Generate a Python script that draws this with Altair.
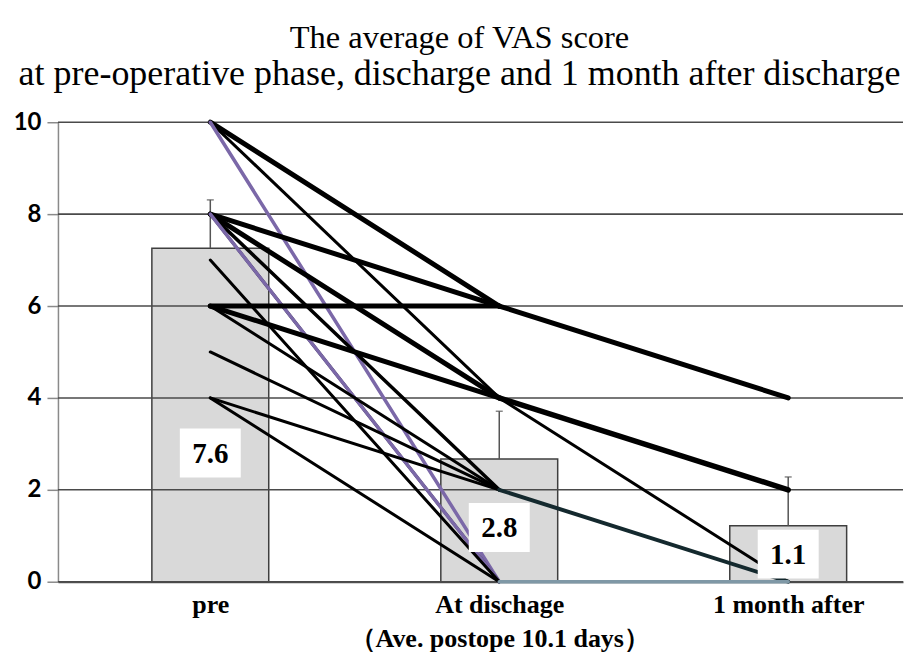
import json
import altair as alt
import pandas as pd

# ---------------- data ----------------
phase_index = [0, 1, 2]
phase_labels = [["pre"], ["At dischage", "（Ave. postope 10.1 days）"], ["1 month after"]]

bar_mean = [7.26, 2.67, 1.22]
bar_err_top = [8.31, 3.71, 2.28]

box_text = ["7.6", "2.8", "1.1"]
box_y = [2.8, 1.18, 0.6]

y_ticks = [0, 2, 4, 6, 8, 10]

# individual patient segments (start phase, start VAS, end VAS, line width, colour)
seg_start_phase = [0, 0, 0, 0, 0, 0, 0, 0, 0, 0, 0, 0, 0, 0, 0,
                   1, 1, 1, 1, 1]
seg_start_val = [10, 10, 10, 8, 8, 8, 8, 8, 7, 6, 6, 6, 5, 4, 4,
                 6, 4, 4, 2, 0]
seg_end_val = [6, 4, 0, 6, 4, 2, 0, 0, 0, 6, 4, 2, 2, 2, 0,
               4, 2, 0, 0, 0]
seg_width = [5, 3, 3.5, 5, 5, 3.5, 3, 3.5, 3, 5, 5, 3, 3, 3, 3,
             5, 5.5, 3, 4, 3.5]
seg_color = ["#000000", "#000000", "#7b68a8", "#000000", "#000000", "#000000",
             "#000000", "#7b68a8", "#000000", "#000000", "#000000", "#000000",
             "#000000", "#000000", "#000000",
             "#000000", "#000000", "#000000", "#14292e", "#7f98a6"]

title_line1 = "The average of VAS score"
title_line2 = "at pre-operative phase, discharge and 1 month after discharge"

# ---------------- tables ----------------
bars = pd.DataFrame({"x": phase_index, "mean": bar_mean, "top": bar_err_top,
                     "txt": box_text, "ty": box_y})

rows = []
for i, (p, a, b, w, c) in enumerate(zip(seg_start_phase, seg_start_val, seg_end_val,
                                        seg_width, seg_color)):
    rows.append({"id": i, "x": p, "v": a, "w": w, "c": c, "o": 0})
    rows.append({"id": i, "x": p + 1, "v": b, "w": w, "c": c, "o": 1})
segs = pd.DataFrame(rows)

grid = pd.DataFrame({"g": y_ticks})

# ---------------- scales ----------------
xs = alt.Scale(domain=[-0.51, 2.38], nice=False, zero=False)
ys = alt.Scale(domain=[0, 10], nice=False)

label_expr = json.dumps(phase_labels, ensure_ascii=False) + "[datum.value]"

x_axis = alt.Axis(values=phase_index, labelExpr=label_expr, title=None)
y_axis = alt.Axis(values=y_ticks, title=None)

SERIF = "Liberation Serif, Times New Roman, serif"

base_bar = alt.Chart(bars)

bar_layer = base_bar.mark_bar(size=117, color="#d9d9d9", stroke="#3f3f3f",
                              strokeWidth=1.5).encode(
    x=alt.X("x:Q", scale=xs, axis=x_axis),
    y=alt.Y("mean:Q", scale=ys, axis=y_axis),
)

grid_layer = alt.Chart(grid).mark_rule(color="#4a4a4a", strokeWidth=1.6).encode(
    y=alt.Y("g:Q", scale=ys)
)

err_layer = base_bar.mark_rule(color="#555555", strokeWidth=1.5).encode(
    x=alt.X("x:Q", scale=xs), y=alt.Y("mean:Q", scale=ys), y2="top:Q"
)
cap_layer = base_bar.mark_tick(color="#555555", thickness=1.5, size=7,
                               orient="horizontal").encode(
    x=alt.X("x:Q", scale=xs), y=alt.Y("top:Q", scale=ys)
)

line_layer = alt.Chart(segs).mark_line(strokeCap="round").encode(
    x=alt.X("x:Q", scale=xs),
    y=alt.Y("v:Q", scale=ys),
    detail="id:N",
    order="o:Q",
    color=alt.Color("c:N", scale=None),
    strokeWidth=alt.StrokeWidth("w:Q", scale=None),
)

box_layer = base_bar.mark_point(
    shape="M-1.245,-1L1.245,-1L1.245,1L-1.245,1Z", filled=True, fill="white",
    opacity=1, strokeWidth=0, size=2401).encode(
    x=alt.X("x:Q", scale=xs), y=alt.Y("ty:Q", scale=ys)
)
text_layer = base_bar.mark_text(font=SERIF, fontSize=29, fontWeight="bold",
                                color="black", baseline="middle", align="center",
                                dy=1).encode(
    x=alt.X("x:Q", scale=xs), y=alt.Y("ty:Q", scale=ys), text="txt:N"
)

chart = alt.layer(bar_layer, grid_layer, err_layer, cap_layer, line_layer,
                  box_layer, text_layer).properties(
    width=846, height=460,
    title=alt.TitleParams(text=title_line1, font=SERIF, fontSize=32.5,
                          fontWeight="normal", color="black", anchor="middle",
                          subtitle=title_line2, subtitleFont=SERIF,
                          subtitleFontSize=36, subtitleColor="black",
                          subtitleFontWeight="normal", subtitlePadding=3,
                          offset=18, dx=-21),
    padding={"left": 5, "top": 13, "right": 0, "bottom": 0},
).configure_view(stroke=None).configure_axisX(
    grid=False, ticks=False, domainColor="#555555", domainWidth=2,
    labelFont=SERIF, labelFontSize=26, labelFontWeight="bold",
    labelColor="black", labelPadding=10, labelLineHeight=34, labelLimit=0,
    labelBaseline="top"
).configure_axisY(
    grid=False, domainColor="#8a8a8a", domainWidth=1.5,
    tickColor="#8a8a8a", tickSize=11, tickWidth=1.5,
    labelFont="Lato", labelFontSize=24, labelFontWeight="bold",
    labelColor="black", labelPadding=6
)

chart.save("out.html", embed_options={"renderer": "svg", "actions": False})
